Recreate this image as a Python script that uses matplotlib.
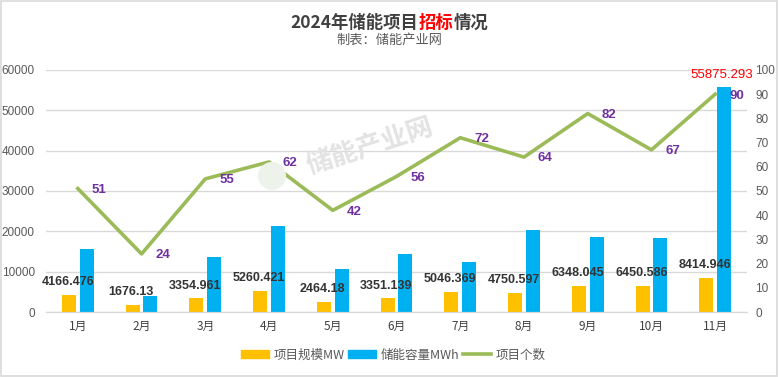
import numpy as np
import matplotlib
matplotlib.use("Agg")
import matplotlib.pyplot as plt
from matplotlib.patches import Rectangle, Ellipse

plt.rcParams['font.family'] = ['Noto Sans CJK SC', 'DejaVu Sans']

# data
months = ['1月', '2月', '3月', '4月', '5月', '6月', '7月', '8月', '9月', '10月', '11月']
scale_mw = [4166.476, 1676.13, 3354.961, 5260.421, 2464.18, 3351.139,
            5046.369, 4750.597, 6348.045, 6450.586, 8414.946]
capacity_mwh = [15600, 4000, 13650, 21300, 10650, 14400,
                12400, 20300, 18600, 18350, 55875.293]
project_count = [51, 24, 55, 62, 42, 56, 72, 64, 82, 67, 90]

c_yellow = '#FFC000'
c_blue = '#00B0F0'
c_green = '#9BBB59'
c_purple = '#7030A0'
c_tick = '#595959'
num_font = ['Liberation Sans', 'DejaVu Sans']

fig = plt.figure(figsize=(7.79, 3.77), dpi=100)

# watermark (behind the chart)
fig.text(0.475, 0.61, '储能产业网', fontsize=19, color='#E3E3E3',
         rotation=18, ha='center', va='center', fontweight='bold', zorder=0)
fig.patches.append(Ellipse((272 / 779, 1 - 176 / 377), 28 / 779, 28 / 377,
                           transform=fig.transFigure, facecolor='#EDF3EA',
                           edgecolor='none', zorder=0))

ax = fig.add_axes([0.059, 0.1724, 0.9, 0.642])
ax.patch.set_alpha(0)
ax2 = ax.twinx()

x = np.arange(len(months))
w = 0.22
ax.bar(x - 0.14, scale_mw, w, color=c_yellow, zorder=2)
ax.bar(x + 0.14, capacity_mwh, w, color=c_blue, zorder=2)

# labels above the yellow bars
for xi, v in zip(x, scale_mw):
    ax.annotate(str(v), (xi - 0.16, v), xytext=(0, 5), textcoords='offset points',
                ha='center', va='bottom', fontsize=9, color='#333333',
                fontweight='bold', family=num_font, zorder=5)
ax.annotate(str(capacity_mwh[-1]), (x[-1] + 0.14, capacity_mwh[-1]), xytext=(-2, 4),
            textcoords='offset points', ha='center', va='bottom', fontsize=9.5,
            color='#FF0000', family=num_font, zorder=5)

ax.set_xlim(-0.5, len(months) - 0.5)
ax.set_ylim(0, 60000)
ax.set_yticks(np.arange(0, 60001, 10000))
ax.set_xticks(x)
ax.set_xticklabels(months)
ax.grid(axis='y', color='#D9D9D9', linewidth=1, zorder=0)
ax.set_axisbelow(True)

ax2.plot(x, project_count, color=c_green, linewidth=2.6, zorder=3)
for xi, v in zip(x, project_count):
    ax2.annotate(str(v), (xi, v), xytext=(10, -1), textcoords='offset points',
                 ha='left', va='center', fontsize=9.5, color=c_purple,
                 fontweight='bold', family=num_font)
ax2.set_ylim(0, 100)
ax2.set_yticks(np.arange(0, 101, 10))

for a in (ax, ax2):
    for s in ('top', 'left', 'right'):
        a.spines[s].set_visible(False)
    a.spines['bottom'].set_color('#D9D9D9')
    a.tick_params(length=0, colors=c_tick, labelsize=8.5)
    for lb in a.get_yticklabels():
        lb.set_family(num_font)
ax.tick_params(axis='y', pad=8)
ax.tick_params(axis='x', pad=6, labelsize=8.5, colors='#404040')
ax2.tick_params(axis='y', pad=6)

# title with the red part
fig.canvas.draw()
r = fig.canvas.get_renderer()
parts = [('2024年储能项目', '#404040'), ('招标', '#FF0000'), ('情况', '#404040')]
texts = [fig.text(0, 0.94, p, fontsize=12.5, fontweight='bold', color=c, va='center')
         for p, c in parts]
widths = [t.get_window_extent(r).width / fig.bbox.width for t in texts]
xs = 0.5 - sum(widths) / 2
for t, wd in zip(texts, widths):
    t.set_x(xs)
    xs += wd
fig.text(0.5, 0.893, '制表：储能产业网', fontsize=9.5, color='#595959', ha='center', va='center')

# legend
handles = [Rectangle((0, 0), 1, 1, color=c_yellow), Rectangle((0, 0), 1, 1, color=c_blue),
           plt.Line2D([0], [0], color=c_green, linewidth=2.6)]
fig.legend(handles, ['项目规模MW', '储能容量MWh', '项目个数'], loc='center',
           bbox_to_anchor=(0.505, 0.058), ncol=3, frameon=False, fontsize=9,
           handlelength=2.2, handleheight=0.6, handletextpad=0.4, columnspacing=0.3,
           labelcolor='#595959')

# outer frame
fig.patches.append(Rectangle((0.001, 0.002), 0.997, 0.995, transform=fig.transFigure,
                             fill=False, edgecolor='#D9D9D9', linewidth=1.2))

fig.savefig('out.png', dpi=100)
